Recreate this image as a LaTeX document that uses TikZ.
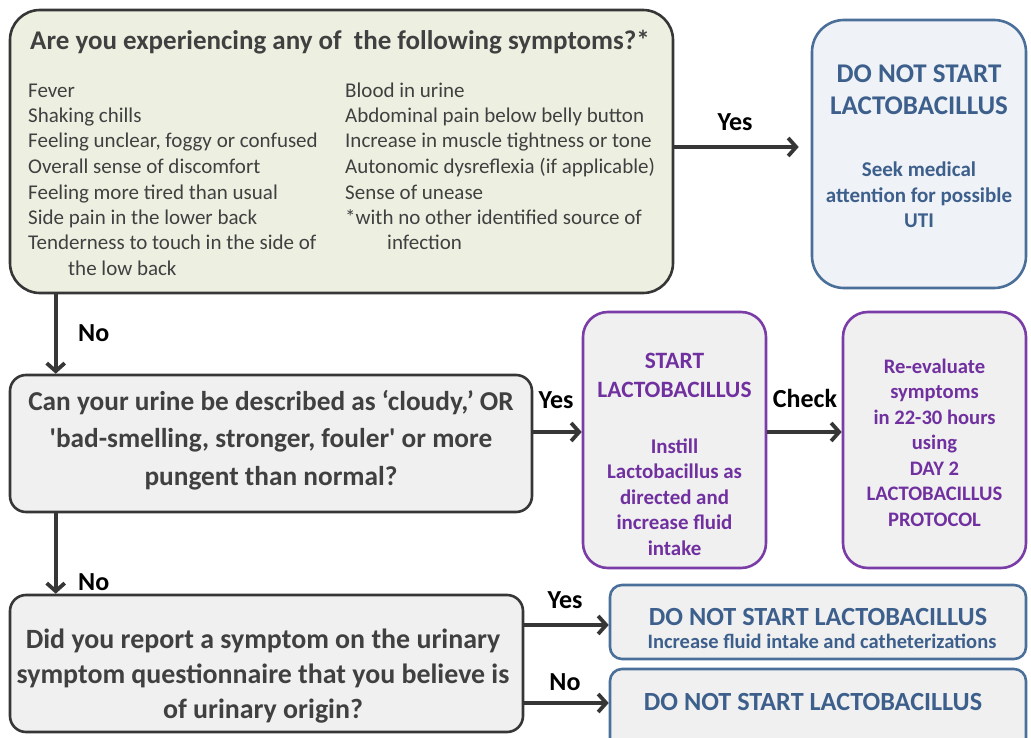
\documentclass[tikz,border=0pt]{standalone}
\usepackage{fontspec}
\setmainfont{Carlito}
\usetikzlibrary{arrows.meta}
\definecolor{greenfill}{HTML}{EDF0E1}
\definecolor{grayfill}{HTML}{F0F0F0}
\definecolor{bluefill}{HTML}{EFF2F6}
\definecolor{darkline}{HTML}{363636}
\definecolor{qtext}{HTML}{404040}
\definecolor{blueline}{HTML}{4A6F99}
\definecolor{bluetext}{HTML}{3D5F8C}
\definecolor{purpleline}{HTML}{7A3DA8}
\definecolor{purpletext}{HTML}{7030A0}
\begin{document}
\begin{tikzpicture}[x=1pt,y=-1pt,
  qbox/.style={draw=darkline, line width=2.6pt, inner sep=0pt},
  bbox/.style={draw=blueline, line width=2.6pt, fill=bluefill, inner sep=0pt},
  pbox/.style={draw=purpleline, line width=2.6pt, fill=grayfill, inner sep=0pt, rounded corners=25pt},
  arr/.style={line width=3.8pt, draw=darkline, -{Straight Barb[length=8pt,width=18pt,line join=miter]}},
  lbl/.style={font=\fontsize{26}{30}\selectfont\bfseries, text=black, inner sep=0pt},
  txt/.style={inner sep=0pt, align=center},
]
\useasboundingbox (0,0) rectangle (1031,738);
\clip (0,0) rectangle (1031,738);
\fill[white] (0,0) rectangle (1031,738);

% boxes
\node[qbox, fill=greenfill, rounded corners=30pt, minimum width=663pt, minimum height=283pt] (box1) at (341.5,151.5) {};
\node[bbox, rounded corners=32pt, minimum width=214pt, minimum height=268pt] (uti) at (919,154) {};
\node[qbox, fill=grayfill, rounded corners=16pt, minimum width=522pt, minimum height=137pt] (box2) at (271,443.5) {};
\node[pbox, minimum width=183pt, minimum height=256pt] (start) at (674.5,440) {};
\node[pbox, minimum width=183pt, minimum height=256pt] (reeval) at (934.5,440) {};
\node[qbox, fill=grayfill, rounded corners=16pt, minimum width=513pt, minimum height=137pt] (box3) at (266.5,663.5) {};
\node[bbox, fill=grayfill, rounded corners=12pt, minimum width=416pt, minimum height=74pt] (dns1) at (818,622) {};
\node[bbox, fill=grayfill, rounded corners=12pt, minimum width=416pt, minimum height=95pt] (dns2) at (818,716.5) {};

% box1 text
\node[inner sep=0pt, anchor=base west, text=qtext, font=\fontsize{27}{30}\selectfont\bfseries] (title) at (30,50) {Are you experiencing any of \ the following symptoms?*};
\node[inner sep=0pt, anchor=base west, align=left, text=qtext, font=\fontsize{21}{25.5}\selectfont] (col1) at (28,275.5) {Fever\\Shaking chills\\Feeling unclear, foggy or confused\\Overall sense of discomfort\\Feeling more tired than usual\\Side pain in the lower back\\Tenderness to touch in the side of\\\hspace*{40pt}the low back};
\node[inner sep=0pt, anchor=base west, align=left, text=qtext, font=\fontsize{21}{25.5}\selectfont] (col2) at (345,250) {Blood in urine\\Abdominal pain below belly button\\Increase in muscle tightness or tone\\Autonomic dysreflexia (if applicable)\\Sense of unease\\*with no other identified source of\\\hspace*{42pt}infection};

% uti text
\node[txt, anchor=base, text=bluetext, font=\fontsize{27}{32}\selectfont\bfseries] (utiA) at (919,115) {DO NOT START\\LACTOBACILLUS};
\node[txt, anchor=base, text=bluetext, font=\fontsize{21}{25.5}\selectfont\bfseries] (utiB) at (919,228) {Seek medical\\attention for possible\\UTI};

% box2 text
\node[txt, anchor=base, text=qtext, font=\fontsize{27.3}{37.5}\selectfont\bfseries] (q2) at (271,485) {Can your urine be described as ‘cloudy,’ OR\\\textquotesingle bad-smelling, stronger, fouler\textquotesingle{} or more\\pungent than normal?};

% start text
\node[txt, anchor=base, text=purpletext, font=\fontsize{23.4}{29}\selectfont\bfseries] (startA) at (674.5,397) {START\\LACTOBACILLUS};
\node[txt, anchor=base, text=purpletext, font=\fontsize{20.9}{25.5}\selectfont\bfseries] (startB) at (674.5,555) {Instill\\Lactobacillus as\\directed and\\increase fluid\\intake};

% reeval text
\node[txt, anchor=base, text=purpletext, font=\fontsize{20.6}{25.5}\selectfont\bfseries] (reA) at (934.5,526) {Re-evaluate\\symptoms\\in 22-30 hours\\using\\DAY 2\\LACTOBACILLUS\\PROTOCOL};

% box3 text
\node[txt, anchor=base, text=qtext, font=\fontsize{27.9}{35}\selectfont\bfseries] (q3) at (263,718) {Did you report a symptom on the urinary\\symptom questionnaire that you believe is\\of urinary origin?};

% dns text
\node[inner sep=0pt, anchor=base, text=bluetext, font=\fontsize{26.2}{30}\selectfont\bfseries] (dns1A) at (818,625) {DO NOT START LACTOBACILLUS};
\node[inner sep=0pt, anchor=base, text=bluetext, font=\fontsize{20.5}{24}\selectfont\bfseries] (dns1B) at (822,648) {Increase fluid intake and catheterizations};
\node[inner sep=0pt, anchor=base, text=bluetext, font=\fontsize{26.2}{30}\selectfont\bfseries] (dns2A) at (813,710) {DO NOT START LACTOBACILLUS};

% arrows
\draw[arr, shorten >=12pt] ([yshift=4.5pt]box1.east) -- ([yshift=4.5pt]box1.east -| uti.west);
\draw[arr] ([xshift=47pt]box1.south west) -- ([xshift=47pt]box2.north west);
\draw[arr] ([yshift=11.5pt]box2.east) -- ([yshift=11.5pt]box2.east -| start.west);
\draw[arr] ([yshift=8pt]start.east) -- ([yshift=8pt]start.east -| reeval.west);
\draw[arr] ([xshift=47pt]box2.south west) -- ([xshift=47pt]box3.north west);
\draw[arr] ([yshift=38.5pt]box3.east) -- ([yshift=38.5pt]box3.east -| dns1.west);
\draw[arr] ([yshift=-39.5pt]box3.east) -- ([yshift=-39.5pt]box3.east -| dns2.west);

% labels
\node[lbl] (yes1) at (735,122) {Yes};
\node[lbl, anchor=west] (no1) at (78,333) {No};
\node[lbl] (yes2) at (556,400) {Yes};
\node[lbl] (check) at (805,398) {Check};
\node[lbl, anchor=west] (no2) at (78,582) {No};
\node[lbl] (yes3) at (565,600) {Yes};
\node[lbl] (no3) at (565,682) {No};
\end{tikzpicture}
\end{document}
